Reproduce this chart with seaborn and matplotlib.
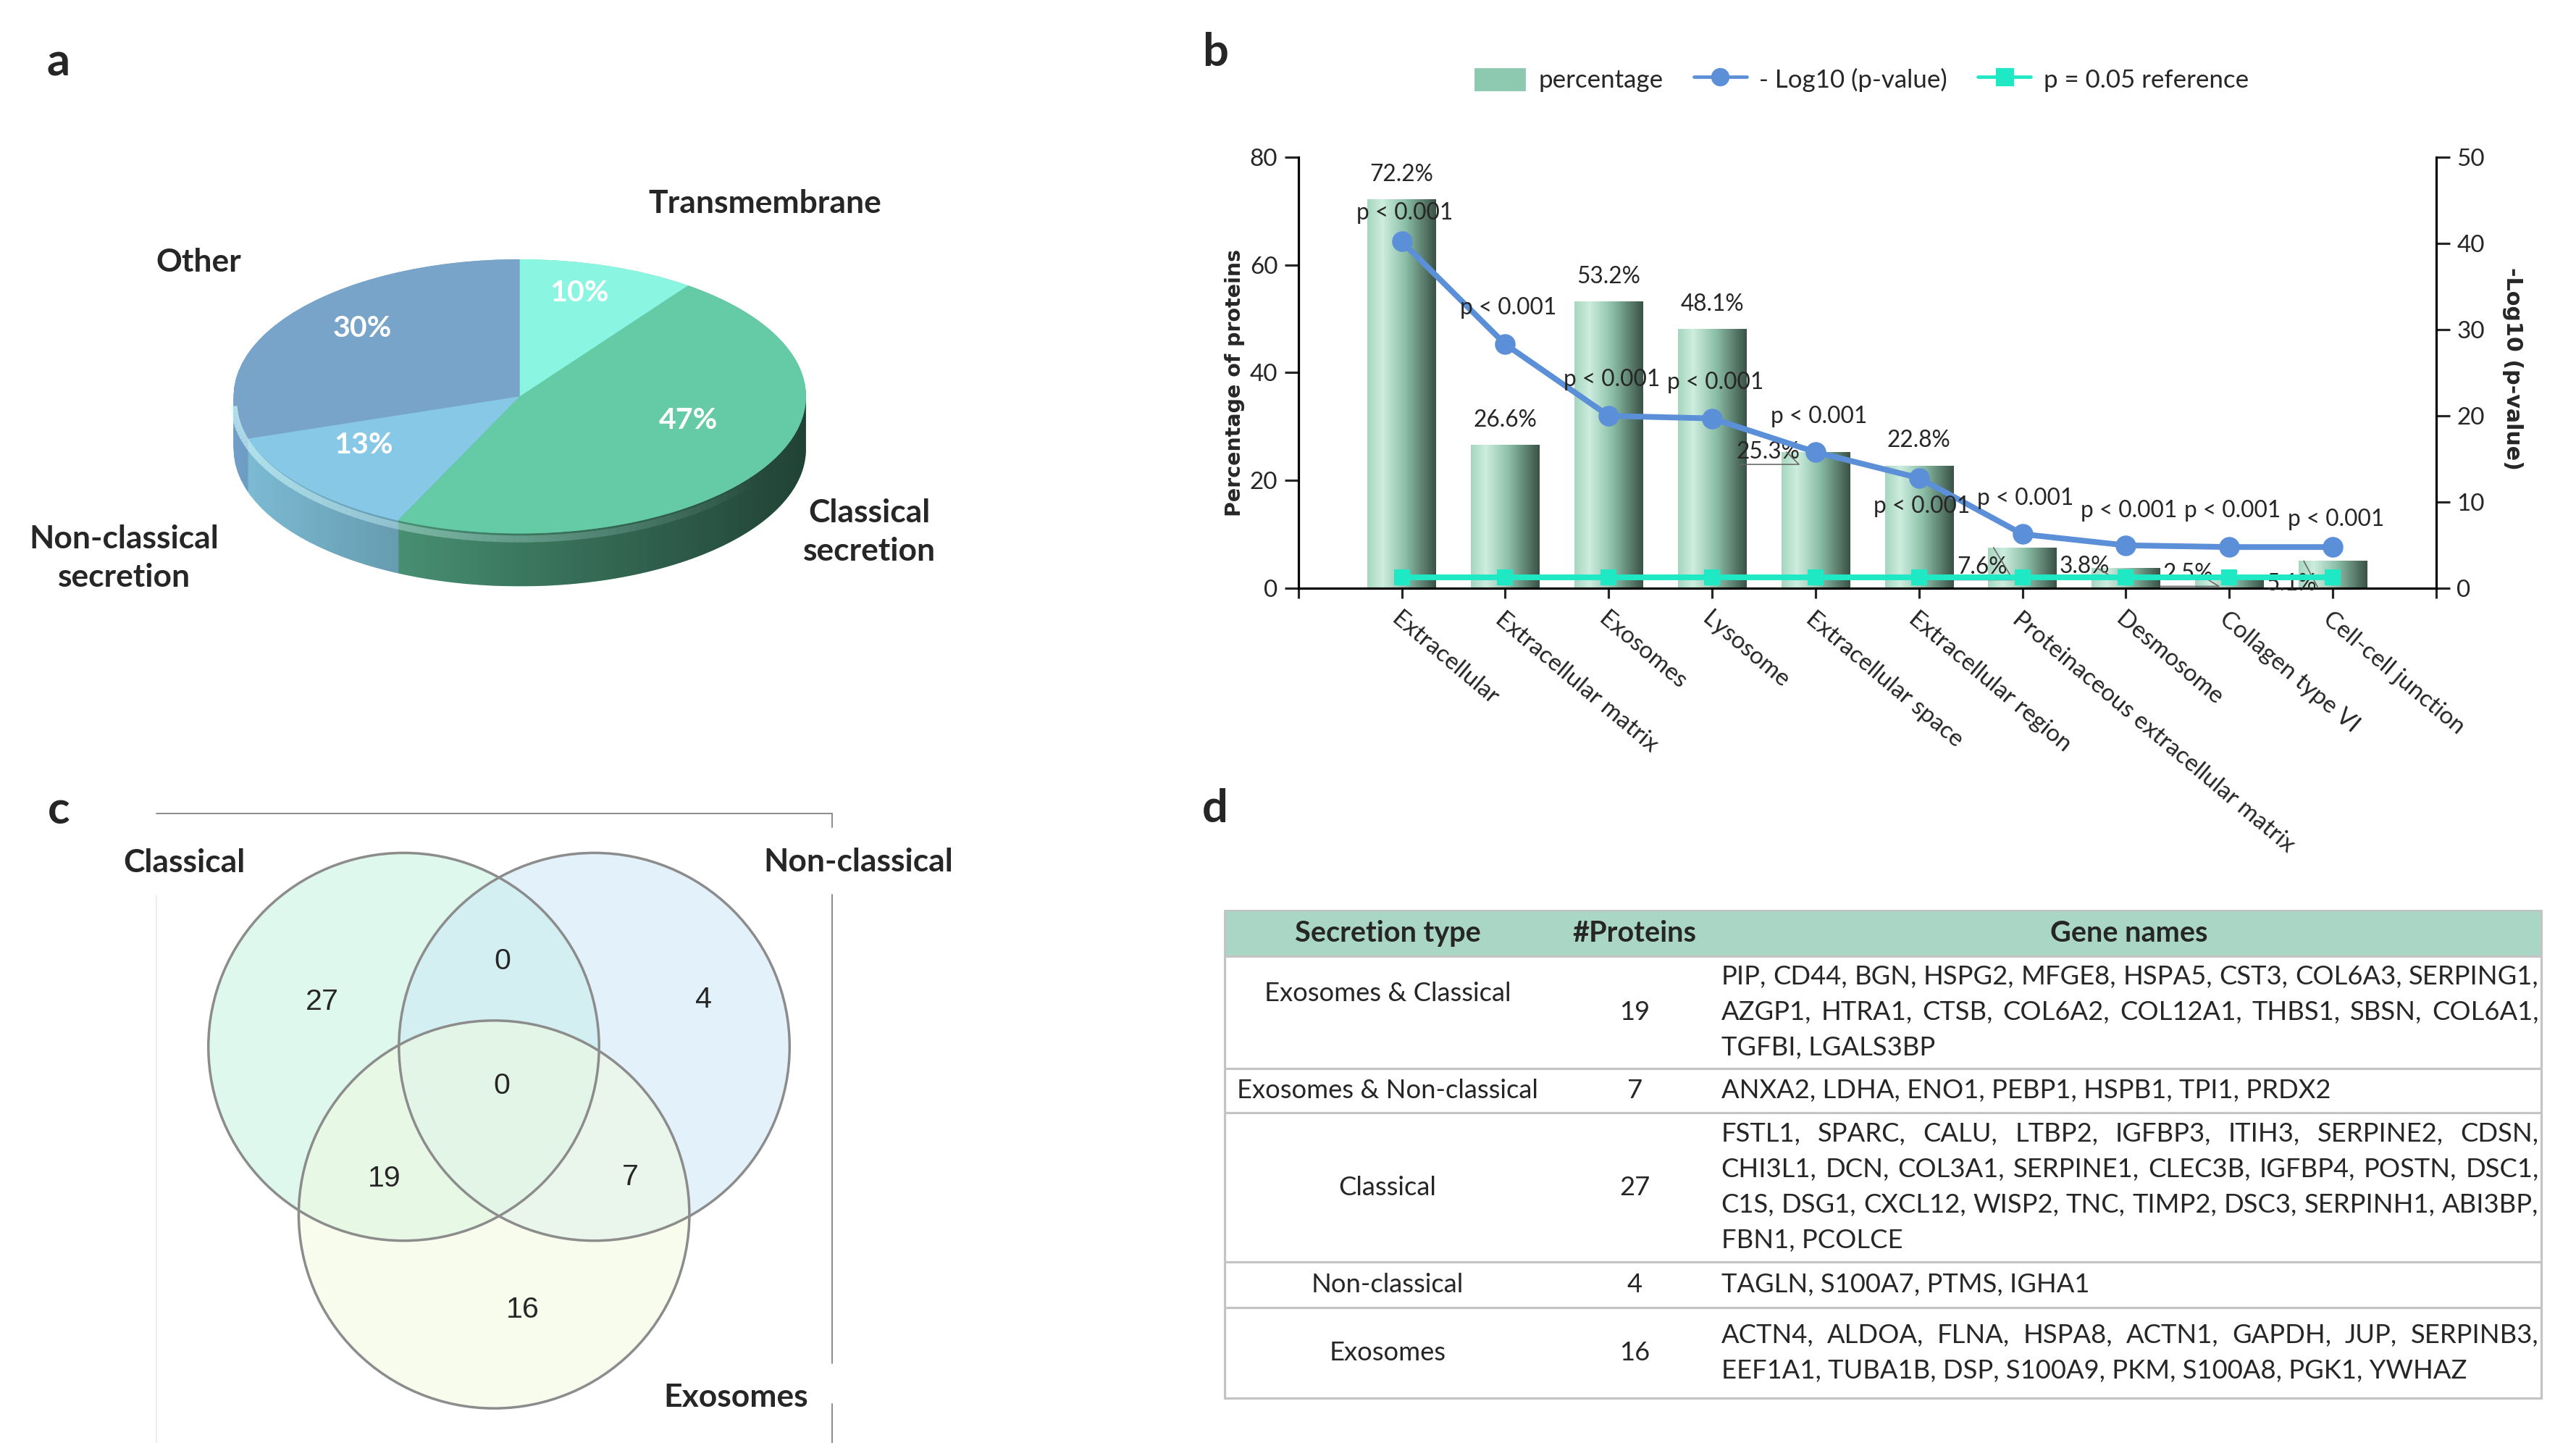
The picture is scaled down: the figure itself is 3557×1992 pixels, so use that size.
import numpy as np
import matplotlib
matplotlib.use("Agg")
import matplotlib.pyplot as plt
import seaborn as sns
from matplotlib.patches import Ellipse, Polygon, Rectangle, Patch
from matplotlib.lines import Line2D
from matplotlib.collections import LineCollection
from matplotlib.colors import LinearSegmentedColormap

sns.set_style("white")
plt.rcParams["font.family"] = ["Lato", "DejaVu Sans"]

# ---- panel a: secretion pathway share ----
pie_labels = ["Other", "Non-classical\nsecretion", "Classical\nsecretion", "Transmembrane"]
pie_values = [30, 13, 47, 10]

# ---- panel b: GO cellular component enrichment ----
go_terms = ["Extracellular", "Extracellular matrix", "Exosomes", "Lysosome",
            "Extracellular space", "Extracellular region",
            "Proteinaceous extracellular matrix", "Desmosome",
            "Collagen type VI", "Cell-cell junction"]
go_percent = [72.2, 26.6, 53.2, 48.1, 25.3, 22.8, 7.6, 3.8, 2.5, 5.1]
go_logp = [40.2, 28.3, 20.0, 19.7, 15.8, 12.8, 6.3, 5.0, 4.8, 4.8]
go_plabel = ["p < 0.001"] * 10
p_ref = 0.05

# ---- panel c: venn counts ----
venn_sets = ["Classical", "Non-classical", "Exosomes"]
venn_counts = {"100": 27, "110": 0, "010": 4, "111": 0, "101": 19, "011": 7, "001": 16}

# ---- panel d: table ----
table_header = ["Secretion type", "#Proteins", "Gene names"]
table_types = ["Exosomes & Classical", "Exosomes & Non-classical", "Classical",
               "Non-classical", "Exosomes"]
table_counts = [19, 7, 27, 4, 16]
table_genes = [
    ["PIP, CD44, BGN, HSPG2, MFGE8, HSPA5, CST3, COL6A3, SERPING1,",
     "AZGP1, HTRA1, CTSB, COL6A2, COL12A1, THBS1, SBSN, COL6A1,",
     "TGFBI, LGALS3BP"],
    ["ANXA2, LDHA, ENO1, PEBP1, HSPB1, TPI1, PRDX2"],
    ["FSTL1, SPARC, CALU, LTBP2, IGFBP3, ITIH3, SERPINE2, CDSN,",
     "CHI3L1, DCN, COL3A1, SERPINE1, CLEC3B, IGFBP4, POSTN, DSC1,",
     "C1S, DSG1, CXCL12, WISP2, TNC, TIMP2, DSC3, SERPINH1, ABI3BP,",
     "FBN1, PCOLCE"],
    ["TAGLN, S100A7, PTMS, IGHA1"],
    ["ACTN4, ALDOA, FLNA, HSPA8, ACTN1, GAPDH, JUP, SERPINB3,",
     "EEF1A1, TUBA1B, DSP, S100A9, PKM, S100A8, PGK1, YWHAZ"],
]

# layout works in units of the preview (1 unit = 2.28 px)
S = 2.28
W, H = 3557 / S, 1992 / S
fig = plt.figure(figsize=(3557 / 228, 1992 / 228), dpi=228)


def fx(x):
    return x / W


def fy(y):
    return 1 - y / H


# ================= panel a : 3D-looking pie =================
cx, cy, rx, ry, dep = 314.8, 240, 173.3, 83, 32
pad = 1.02
d = dep / ry
axa = fig.add_axes([fx(cx - rx * pad), fy(cy + ry * pad + dep), 2 * rx * pad / W, (2 * ry * pad + dep) / H])
side_colors = ["#6f9fc6", "#7dbdd6", "#57ae8c", "#6fd8c4"]
top_colors = ["#79a4c9", "#86c8e6", "#64cba6", "#8af6e1"]
for k in np.linspace(d, 0, 40):
    axa.pie(pie_values, colors=side_colors, startangle=90, center=(0, -k),
            wedgeprops=dict(linewidth=0))
t = np.linspace(np.pi, 2 * np.pi, 200)
band = Polygon(np.column_stack([np.r_[np.cos(t), np.cos(t[::-1])],
                                np.r_[np.sin(t), np.sin(t[::-1]) - d]]),
               closed=True, fill=False, lw=0)
axa.add_patch(band)
shade = np.zeros((1, 256, 4))
shade[..., 3] = np.linspace(0, 0.62, 256)
im = axa.imshow(shade, extent=[-1, 1, -1 - d, 0], aspect="auto", zorder=5)
im.set_clip_path(band)
axa.pie(pie_values, colors=top_colors, startangle=90,
        wedgeprops=dict(linewidth=0, zorder=6))
# soft bevel highlight on the front rim
tt = np.linspace(np.pi * 1.01, np.pi * 2, 120)
pts = np.column_stack([np.cos(tt), np.sin(tt) - 0.04])
segs = np.stack([pts[:-1], pts[1:]], axis=1)
alphas = np.clip(np.linspace(0.65, -0.15, len(segs)), 0, 1)
axa.add_collection(LineCollection(segs, colors=[(0.85, 1, 1, a) for a in alphas],
                                  linewidths=3, zorder=7))
axa.set_aspect("auto")
axa.set_xlim(-pad, pad)
axa.set_ylim(-pad - d, pad)
axa.axis("off")

# ================= panel b : bars + -log10 p =================
blue = "#5b8fd8"
cyan = "#1fe9c4"
bx0, bx1, by0, by1 = 786.3, 1475.4, 95.0, 356.3
axb = fig.add_axes([fx(bx0), fy(by1), (bx1 - bx0) / W, (by1 - by0) / H])
sns.barplot(x=go_terms, y=go_percent, ax=axb, color="#8cc9b0", saturation=1,
            width=0.66, errorbar=None, edgecolor="none", linewidth=0)
bar_cmap = LinearSegmentedColormap.from_list(
    "bar", [(0, "#a6d6bf"), (0.22, "#cdeddf"), (0.55, "#8cbfa8"), (1, "#3a5246")])
grad = np.linspace(0, 1, 256).reshape(1, -1)
for bar in axb.patches:
    x0, y0, w, h = bar.get_x(), bar.get_y(), bar.get_width(), bar.get_height()
    gi = axb.imshow(grad, cmap=bar_cmap, extent=[x0, x0 + w, y0, y0 + h],
                    aspect="auto", zorder=bar.get_zorder() + 0.1)
    gi.set_clip_path(bar)

idx = np.arange(len(go_terms))
axr = axb.twinx()
sns.lineplot(x=idx, y=[-np.log10(p_ref)] * len(idx), ax=axr, color=cyan, lw=2.5,
             marker="s", markersize=7, markeredgewidth=0)
sns.lineplot(x=idx, y=go_logp, ax=axr, color=blue, lw=2.5,
             marker="o", markersize=9, markeredgewidth=0)

axb.set_xlim(-1, 10)
axb.set_ylim(0, 80)
axb.set_yticks(range(0, 81, 20))
axr.set_ylim(0, 50)
axr.set_yticks(range(0, 51, 10))
for s in ["top", "right"]:
    axb.spines[s].set_visible(False)
for s in ["top", "left", "bottom"]:
    axr.spines[s].set_visible(False)
for ax in (axb, axr):
    for s in ax.spines.values():
        s.set_color("black")
        s.set_linewidth(1)
axb.set_xticks(idx)
axb.set_xticklabels(go_terms, rotation=-40, ha="left", va="top",
                    rotation_mode="anchor", fontsize=10.5)
axb.set_xticks([-1, 10], minor=True)
axb.tick_params(axis="x", which="both", direction="out", length=4.5, width=1,
                bottom=True, pad=4)
axb.tick_params(axis="y", direction="out", length=6, width=1, left=True,
                labelsize=10.5, pad=3)
axr.tick_params(axis="y", direction="out", length=6, width=1, right=True,
                labelsize=10.5, pad=3)
axb.set_xlabel("")
axb.set_ylabel("Percentage of proteins", fontfamily="DejaVu Sans",
               fontweight="bold", fontsize=9, va="center")
axb.yaxis.set_label_coords(-0.0556, 0.477)
axr.set_ylabel("-Log10 (p-value)", fontfamily="DejaVu Sans", fontweight="bold",
               fontsize=9.5, rotation=270, va="center")
axr.yaxis.set_label_coords(1.067, 0.51)

# label placement (layout only)
pct_dx = [0, 0, 0, 0, -0.46, 0, -0.39, -0.40, -0.40, -0.40]
pct_dy = [4.5, 4.6, 4.6, 4.6, 0, 4.6, -3.7, 0.3, 0.2, -4.2]
p_dy = [3.3, 4.2, 4.2, 4.2, 4.1, -3.3, 4.1, 4.0, 4.2, 3.2]
for i, v in enumerate(go_percent):
    lx, ly = i + pct_dx[i], v + pct_dy[i]
    axb.text(lx, ly, f"{v}%", ha="center", va="center", fontsize=10, zorder=6)
    if pct_dx[i] != 0:
        axb.plot([lx - 0.27, lx + 0.3, i - 0.28], [ly - 2.3, ly - 2.3, v],
                 color="#666666", lw=0.5, zorder=6)
    axr.text(i + 0.03, go_logp[i] + p_dy[i], go_plabel[i], ha="center",
             va="center", fontsize=10, zorder=6)

handles = [Patch(facecolor="#8cc9b0", label="percentage"),
           Line2D([], [], color=blue, marker="o", lw=1.5, ms=7, label="- Log10 (p-value)"),
           Line2D([], [], color=cyan, marker="s", lw=1.5, ms=7, label="p = 0.05 reference")]
fig.legend(handles=handles, loc="center", bbox_to_anchor=(fx(1127), fy(48)), ncol=3,
           frameon=False, fontsize=11, handlelength=2.1, handleheight=1.2,
           columnspacing=1.2, handletextpad=0.5)

# ================= overlay for texts, venn and table =================
ov = fig.add_axes([0, 0, 1, 1], zorder=10)
ov.set_xlim(0, W)
ov.set_ylim(H, 0)
ov.axis("off")
ov.patch.set_visible(False)

for lab, (x, y) in zip("abcd", [(35.5, 37.8), (736, 32), (35.5, 490.8), (736, 490)]):
    ov.text(x, y, lab, fontsize=20, fontweight="bold", ha="center", va="center")

# pie texts
pie_label_pos = [(120.3, 158.6), (75, 338), (526.4, 322), (463.3, 123.4)]
pie_pct_pos = [(219.6, 198.9), (220, 269.4), (416.8, 254.8), (351, 177.5)]
for lab, v, (lx, ly), (px, py) in zip(pie_labels, pie_values, pie_label_pos, pie_pct_pos):
    ov.text(lx, ly, lab, fontsize=14, fontweight="bold", ha="center", va="center",
            linespacing=1.4)
    ov.text(px, py, f"{v}%", fontsize=13, fontweight="bold", color="white",
            ha="center", va="center")

# venn
frame_c = "#8a8a8a"
vx = 504.1
ov.plot([94.7, vx], [492.7, 492.7], color=frame_c, lw=0.6)
for y0, y1 in [(492.7, 501), (541.7, 825.4), (850, H)]:
    ov.plot([vx, vx], [y0, y1], color=frame_c, lw=0.6)
ov.plot([94.7, 94.7], [542, H], color="#eeeeee", lw=0.6)
circles = [((244.5, 633.8), "#bff3df"), ((359.9, 633.8), "#c9e7f7"), ((299.2, 735.3), "#f1fbdd")]
for (c, col) in circles:
    ov.add_patch(Ellipse(c, 236.6, 234.8, facecolor=col, alpha=0.5, edgecolor="none"))
for (c, col) in circles:
    ov.add_patch(Ellipse(c, 236.6, 234.8, facecolor="none", edgecolor="#8c8c8c", lw=1.1))
venn_pos = {"100": (195.2, 606.7), "110": (304.5, 582.2), "010": (426, 605.4),
            "111": (303.7, 657.6), "101": (232.7, 713.5), "011": (381.8, 712.9),
            "001": (316.7, 793)}
for key, n in venn_counts.items():
    x, y = venn_pos[key]
    ov.text(x, y, str(n), fontsize=13, fontfamily="Liberation Sans", ha="center", va="center")
for lab, (x, y) in zip(venn_sets, [(111.6, 522.4), (519.8, 521.9), (445.7, 846)]):
    ov.text(x, y, lab, fontsize=14, fontweight="bold", ha="center", va="center")

# table
tx0, tx1 = 741.5, 1539
rows_y = [551.1, 578.8, 646.9, 673.8, 764, 791.7, 846.7]
col_c = [840.4, 990, 1289.4]
gx0, gx1 = 1042.4, 1537.5
line_h = 21.5
ov.add_patch(Rectangle((tx0, rows_y[0]), tx1 - tx0, rows_y[1] - rows_y[0],
                       facecolor="#a9d6c5", edgecolor="none"))
ov.plot([tx0, tx1], [rows_y[0], rows_y[0]], color="#b9c9c2", lw=1)
for y in rows_y[1:]:
    ov.plot([tx0, tx1], [y, y], color="#c4c4c4", lw=1)
for x in (tx0, tx1):
    ov.plot([x, x], [rows_y[0], rows_y[-1]], color="#c4c4c4", lw=1)
hy = (rows_y[0] + rows_y[1]) / 2
for lab, x in zip(table_header, col_c):
    ov.text(x, hy, lab, fontsize=12.5, fontweight="bold", ha="center", va="center")

renderer = fig.canvas.get_renderer()


def text_w(s, size):
    tt_ = ov.text(0, 0, s, fontsize=size)
    w_ = tt_.get_window_extent(renderer=renderer).width / S
    tt_.remove()
    return w_


gene_fs = 11.5
avail = gx1 - gx0
widest = max(text_w(l, gene_fs) for rows in table_genes for l in rows)
if widest > avail:
    gene_fs *= avail / widest * 0.99

type_dy = [-11.5, 0, 0, 0, 0]
for i, (tp, n, genes) in enumerate(zip(table_types, table_counts, table_genes)):
    yc = (rows_y[i + 1] + rows_y[i + 2]) / 2
    ov.text(col_c[0], yc + type_dy[i], tp, fontsize=11.5, ha="center", va="center")
    ov.text(col_c[1], yc, str(n), fontsize=11.5, ha="center", va="center")
    for j, line in enumerate(genes):
        y = yc + (j - (len(genes) - 1) / 2) * line_h
        if j == len(genes) - 1:
            ov.text(gx0, y, line, fontsize=gene_fs, ha="left", va="center")
            continue
        words = line.split()
        ws = [text_w(wd, gene_fs) for wd in words]
        gap = (avail - sum(ws)) / (len(words) - 1)
        x = gx0
        for wd, ww in zip(words, ws):
            ov.text(x, y, wd, fontsize=gene_fs, ha="left", va="center")
            x += ww + gap

fig.savefig("out.png", dpi=228)
